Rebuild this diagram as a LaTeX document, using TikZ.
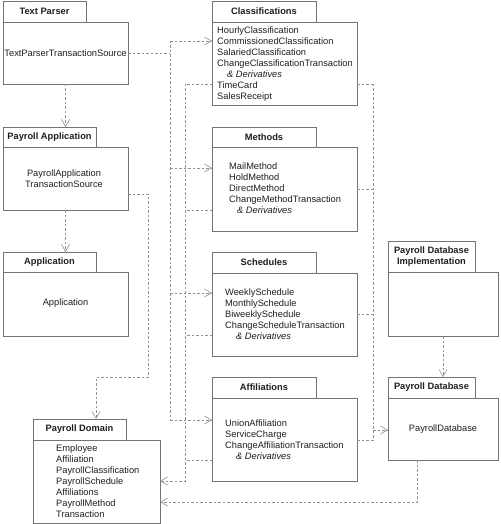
\documentclass[tikz,border=0pt]{standalone}
\usepackage{fontspec}
\setmainfont{Liberation Sans}
\usetikzlibrary{arrows.meta,calc}
\definecolor{boxc}{RGB}{115,115,115}
\definecolor{linec}{RGB}{145,145,145}
\definecolor{txt}{RGB}{30,30,30}
\begin{document}
\begin{tikzpicture}[x=1pt,y=-1pt,
  every node/.style={font=\fontsize{9.3}{11}\selectfont, text=txt},
  tabbox/.style={draw=boxc, line width=0.6pt, anchor=north west, inner sep=0pt, outer sep=0pt,
    font=\fontsize{9.3}{11}\selectfont\bfseries, align=center},
  bodybox/.style={draw=boxc, line width=0.6pt, anchor=north west, inner sep=0pt, outer sep=0pt},
  lst/.style={anchor=north west, inner sep=0pt, align=left},
  ctr/.style={inner sep=0pt, align=center},
  dep/.style={draw=linec, dash pattern=on 2.5pt off 2pt, line width=0.6pt},
  arr/.style={dep, -{Straight Barb[length=7pt,width=8pt]}}
]
\useasboundingbox (0,0) rectangle (500,524);

% Text Parser
\node[tabbox, minimum width=83pt, minimum height=21pt] (tpT) at (3,1) {Text Parser};
\node[bodybox, minimum width=125pt, minimum height=62pt] (tp) at (3,22) {};
\node[ctr] (tpx) at (65.5,53) {TextParserTransactionSource};

% Payroll Application
\node[tabbox, minimum width=93pt, minimum height=20pt] (paT) at (3,127) {Payroll Application};
\node[bodybox, minimum width=125pt, minimum height=63pt] (pa) at (3,147) {};
\node[ctr] (pax) at (64,178.5) {PayrollApplication\\TransactionSource};

% Application
\node[tabbox, minimum width=93pt, minimum height=20pt] (apT) at (3,252) {Application};
\node[bodybox, minimum width=125pt, minimum height=64pt] (ap) at (3,272) {};
\node[ctr] (apx) at (65.5,303) {Application};

% Payroll Domain
\node[tabbox, minimum width=93pt, minimum height=21pt] (pdT) at (33,419) {Payroll Domain};
\node[bodybox, minimum width=127pt, minimum height=83pt] (pd) at (33,440) {};
\node[lst] (pdx) at (56,444.6) {Employee\\Affiliation\\PayrollClassification\\PayrollSchedule\\Affiliations\\PayrollMethod\\Transaction};

% Classifications
\node[tabbox, minimum width=104pt, minimum height=21pt] (clT) at (212,1) {Classifications};
\node[bodybox, minimum width=145pt, minimum height=83pt] (cl) at (212,22) {};
\node[lst] (clx) at (217,26.6) {HourlyClassification\\CommissionedClassification\\SalariedClassification\\ChangeClassificationTransaction\\\hspace*{10pt}\textit{\& Derivatives}\\TimeCard\\SalesReceipt};

% Methods
\node[tabbox, minimum width=104pt, minimum height=20pt] (meT) at (212,127) {Methods};
\node[bodybox, minimum width=145pt, minimum height=84pt] (me) at (212,147) {};
\node[lst] (mex) at (229,162.6) {MailMethod\\HoldMethod\\DirectMethod\\ChangeMethodTransaction\\\hspace*{8pt}\textit{\& Derivatives}};

% Schedules
\node[tabbox, minimum width=104pt, minimum height=21pt] (scT) at (212,252) {Schedules};
\node[bodybox, minimum width=145pt, minimum height=83pt] (sc) at (212,273) {};
\node[lst] (scx) at (225,288.6) {WeeklySchedule\\MonthlySchedule\\BiweeklySchedule\\ChangeScheduleTransaction\\\hspace*{11pt}\textit{\& Derivatives}};

% Affiliations
\node[tabbox, minimum width=104pt, minimum height=21pt] (afT) at (212,377) {Affiliations};
\node[bodybox, minimum width=145pt, minimum height=83pt] (af) at (212,398) {};
\node[lst] (afx) at (225,419.6) {UnionAffiliation\\ServiceCharge\\ChangeAffiliationTransaction\\\hspace*{11pt}\textit{\& Derivatives}};

% Payroll Database Implementation
\node[tabbox, minimum width=87pt, minimum height=31pt] (pdiT) at (388,241) {Payroll Database\\Implementation};
\node[bodybox, minimum width=110pt, minimum height=64pt] (pdi) at (388,272) {};

% Payroll Database
\node[tabbox, minimum width=87pt, minimum height=21pt] (pdbT) at (388,377) {Payroll Database};
\node[bodybox, minimum width=110pt, minimum height=62pt] (pdb) at (388,398) {};
\node[ctr] (pdbx) at (443,429) {PayrollDatabase};

% ---- connectors ----
\draw[arr] (tp.south) -- (tp.south |- paT.north);
\draw[arr] (pa.south) -- (pa.south |- apT.north);

% Text Parser bus
\coordinate (tpo) at (170,53);
\coordinate (b1a) at (170,41);
\coordinate (b1b) at (170,168);
\coordinate (b1c) at (170,293);
\coordinate (b1d) at (170,420);
\draw[dep] (tp.east) -- (tpo);
\draw[dep] (b1a) -- (b1d);
\draw[arr] (b1a) -- (b1a -| cl.west);
\draw[arr] (b1b) -- (b1b -| me.west);
\draw[arr] (b1c) -- (b1c -| sc.west);
\draw[arr] (b1d) -- (b1d -| af.west);

% bus to Payroll Domain
\coordinate (b2a) at (185,84);
\coordinate (b2b) at (185,210);
\coordinate (b2c) at (185,335);
\coordinate (b2d) at (185,460);
\coordinate (b2e) at (185,481);
\draw[dep] (b2a -| cl.west) -- (b2a);
\draw[dep] (b2b -| me.west) -- (b2b);
\draw[dep] (b2c -| sc.west) -- (b2c);
\draw[dep] (b2d -| af.west) -- (b2d);
\draw[arr] (b2a) -- (b2e) -- (b2e -| pd.east);

% bus to Payroll Database
\coordinate (b3a) at (373,84);
\coordinate (b3b) at (373,189);
\coordinate (b3c) at (373,314);
\coordinate (b3d) at (373,440);
\coordinate (b3x) at (373,430);
\draw[dep] (b3a -| cl.east) -- (b3a);
\draw[dep] (b3b -| me.east) -- (b3b);
\draw[dep] (b3c -| sc.east) -- (b3c);
\draw[dep] (b3d -| af.east) -- (b3d);
\draw[dep] (b3a) -- (b3d);
\draw[arr] (b3x) -- (b3x -| pdb.west);

% Payroll Application to Payroll Domain
\coordinate (pa1) at (148,194);
\coordinate (pa2) at (148,377);
\coordinate (pa3) at (96,377);
\draw[arr] (pa1 -| pa.east) -- (pa1) -- (pa2) -- (pa3) -- (pa3 |- pdT.north);

% Database implementation to database
\draw[arr] (pdi.south) -- (pdi.south |- pdbT.north);

% Payroll Database to Payroll Domain
\coordinate (db1) at (417,502);
\draw[arr] (db1 |- pdb.south) -- (db1) -- (db1 -| pd.east);
\end{tikzpicture}
\end{document}
